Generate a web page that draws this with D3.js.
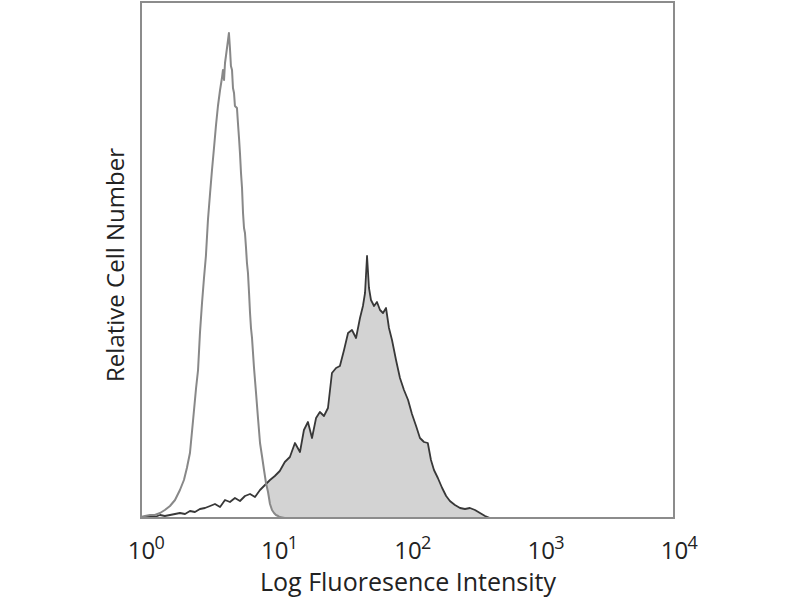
<!DOCTYPE html>
<html>
<head>
<meta charset="utf-8">
<script src="https://cdn.jsdelivr.net/npm/d3@7"></script>
<style>
    body { margin: 0; background: #fff; }
    text { font-family: "Open Sans", "DejaVu Sans", sans-serif; fill: #222; }
</style>
</head>
<body>
<svg id="chart" width="800" height="600"></svg>
<script>
'use strict';

// isotype control (open histogram): fluorescence intensity / relative count
let controlIntensity = [1.00, 1.07, 1.17, 1.27, 1.39, 1.51, 1.65, 1.80, 1.96, 2.10, 2.21, 2.33, 2.46, 2.59, 2.68,
    2.77, 2.87, 2.97, 3.07, 3.18, 3.30, 3.41, 3.53, 3.65, 3.78, 3.92, 4.05, 4.12, 4.20, 4.27, 4.34, 4.50, 4.57,
    4.65, 4.73, 4.82, 4.90, 4.99, 5.07, 5.25, 5.34, 5.44, 5.53, 5.63, 5.73, 5.83, 5.93, 6.03, 6.14, 6.24, 6.35,
    6.47, 6.58, 6.69, 6.81, 7.05, 7.30, 7.55, 7.82, 8.09, 8.38, 8.67, 8.98, 9.29, 9.62, 9.96, 10.3, 10.7, 11.0, 12.0];
let controlCount = [1, 2, 3, 3, 5, 8, 12, 18, 28, 38, 50, 65, 98, 130, 148,
    185, 215, 240, 262, 298, 325, 348, 370, 392, 412, 428, 440, 448, 438, 455, 462, 478, 485,
    470, 452, 448, 430, 425, 412, 410, 395, 380, 365, 345, 330, 305, 290, 285, 270, 255, 245,
    225, 205, 190, 180, 150, 125, 100, 75, 62, 48, 35, 26, 14, 8, 5, 3, 2, 1, 0];

// stained sample (filled histogram)
let stainedIntensity = [1.07, 1.17, 1.27, 1.39, 1.51, 1.65, 1.80, 1.96, 2.14, 2.33, 2.54, 2.77, 3.02, 3.30, 3.59,
    3.92, 4.27, 4.65, 5.07, 5.53, 6.03, 6.58, 7.17, 7.82, 8.52, 9.29, 10.1, 11.0, 12.0, 13.1, 14.3, 15.6, 16.7,
    17.9, 19.2, 20.6, 22.0, 23.6, 25.3, 27.1, 29.1, 31.1, 33.4, 35.8, 38.3, 41.1, 44.0, 46.3, 48.0, 49.7, 51.4,
    53.2, 56.1, 59.0, 62.2, 65.5, 69.0, 72.6, 76.5, 82.0, 87.8, 94.1, 101, 108, 116, 124, 133, 142, 150, 158,
    169, 182, 195, 208, 227, 248, 270, 294, 321, 350, 382, 416];
let stainedCount = [1, 2, 1, 3, 2, 3, 4, 5, 4, 7, 6, 9, 10, 12, 14,
    11, 18, 16, 20, 17, 22, 24, 21, 28, 33, 38, 42, 47, 56, 61, 75, 66, 88,
    96, 80, 100, 106, 102, 110, 145, 150, 152, 168, 185, 188, 180, 200, 212, 225, 262, 230,
    218, 212, 216, 208, 205, 210, 190, 178, 158, 140, 128, 118, 104, 92, 80, 76, 75, 58, 48,
    40, 30, 22, 17, 13, 10, 9, 10, 8, 5, 2, 0];

let xDomain = [1, 10000];
let yMax = 516;
let tickValues = [1, 10, 100, 1000, 10000];
let tickExponents = ["0", "1", "2", "3", "4"];
let xTitle = "Log Fluoresence Intensity";
let yTitle = "Relative Cell Number";

function zip(xs, ys) {
    return xs.map((v, i) => ({intensity: v, count: ys[i]}));
}

function drawChart() {
    let svg = d3.select("#chart"),
        margin = {top: 2, right: 126, bottom: 82, left: 141},
        width = +svg.attr("width") - margin.left - margin.right,
        height = +svg.attr("height") - margin.top - margin.bottom;

    let x = d3.scaleLog()
        .domain(xDomain)
        .range([margin.left, margin.left + width]);
    let y = d3.scaleLinear()
        .domain([0, yMax])
        .range([margin.top + height, margin.top]);

    let control = zip(controlIntensity, controlCount);
    let stained = zip(stainedIntensity, stainedCount);

    let area = d3.area()
        .x(d => x(d.intensity))
        .y0(y(0))
        .y1(d => y(d.count));
    let line = d3.line()
        .x(d => x(d.intensity))
        .y(d => y(d.count));

    // filled histogram, then the control's white interior over it
    svg.append("path")
        .attr("d", area(stained))
        .attr("fill", "#d3d3d3");
    svg.append("path")
        .attr("d", area(control))
        .attr("fill", "#fff");
    svg.append("path")
        .attr("d", line(stained))
        .attr("fill", "none")
        .attr("stroke", "#383838")
        .attr("stroke-width", 1.8)
        .attr("stroke-linejoin", "round");
    svg.append("path")
        .attr("d", line(control))
        .attr("fill", "none")
        .attr("stroke", "#888")
        .attr("stroke-width", 2)
        .attr("stroke-linejoin", "round");

    // frame
    svg.append("rect")
        .attr("x", margin.left)
        .attr("y", margin.top)
        .attr("width", width)
        .attr("height", height)
        .attr("fill", "none")
        .attr("stroke", "#8c8c8c")
        .attr("stroke-width", 2);

    // x axis: no tick marks, only 10^n labels
    let xAxis = svg.append("g")
        .attr("transform", "translate(0," + (margin.top + height) + ")")
        .call(d3.axisBottom(x).tickValues(tickValues).tickSize(0).tickFormat(""));
    xAxis.select(".domain").remove();
    xAxis.selectAll(".tick").each((d, i, nodes) => {
        let g = d3.select(nodes[i]);
        g.append("text")
            .attr("x", 0)
            .attr("y", 41)
            .attr("text-anchor", "middle")
            .style("font-size", "24px")
            .style("fill", "#222")
            .text("10");
        g.append("text")
            .attr("x", 13)
            .attr("y", 31)
            .attr("text-anchor", "start")
            .style("font-size", "18px")
            .style("fill", "#222")
            .text(tickExponents[i]);
    });

    svg.append("text")      // x-axis title
        .attr("x", 408)
        .attr("y", 591)
        .attr("text-anchor", "middle")
        .style("font-size", "25px")
        .text(xTitle);

    svg.append("text")      // y-axis title
        .attr("transform", "translate(124," + 265 + ") rotate(-90)")
        .attr("text-anchor", "middle")
        .style("font-size", "24px")
        .text(yTitle);
}

drawChart();
</script>
</body>
</html>
